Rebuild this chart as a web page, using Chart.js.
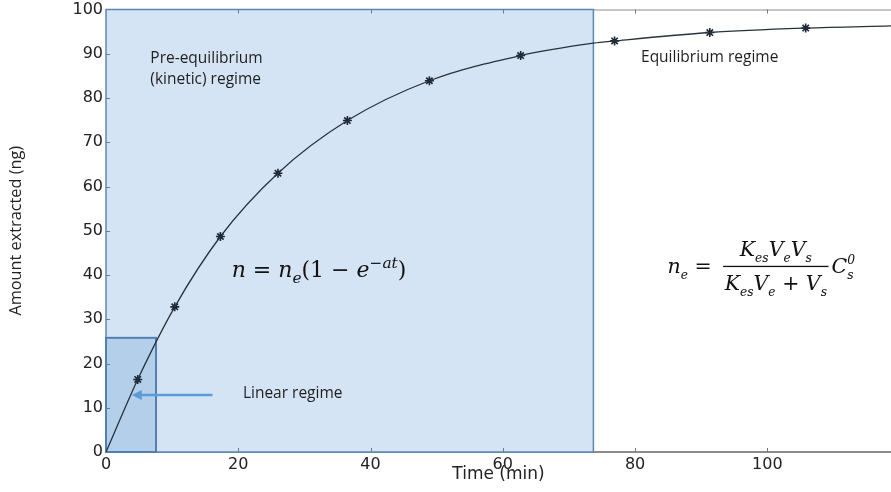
<!DOCTYPE html>
<html>
<head>
<meta charset="utf-8">
<script src="https://cdn.jsdelivr.net/npm/chart.js@4.4.0/dist/chart.umd.min.js"></script>
<style>
  html, body { margin: 0; padding: 0; background: #fff; }
  #wrap { width: 891px; height: 492px; }
</style>
</head>
<body>
<div id="wrap"><canvas id="extractionChart"></canvas></div>
<script>
// measured samples (asterisks)
var sampleTimes = [4.8, 10.4, 17.3, 26.0, 36.5, 48.9, 62.7, 76.9, 91.3, 105.8];
var sampleAmounts = [16.4, 32.8, 48.7, 63.0, 74.9, 83.9, 89.6, 92.9, 94.8, 95.8];

// fitted curve
var curveTimes = [0, 4.8, 10.4, 17.3, 26.0, 36.5, 48.9, 62.7, 73.7, 76.9, 91.3, 105.8, 118.7];
var curveAmounts = [0, 16.4, 32.8, 48.7, 63.0, 74.9, 83.9, 89.6, 92.4, 92.9, 94.8, 95.8, 96.3];

var xTicks = [0, 20, 40, 60, 80, 100];
var yTicks = [0, 10, 20, 30, 40, 50, 60, 70, 80, 90, 100];

// regime boundaries (time, amount)
var kineticEnd = 73.7;
var linearEnd = 7.56;
var linearTop = 25.8;

var ctx = document.getElementById("extractionChart").getContext("2d");

function toPoints(xs, ys) {
  return xs.map(function (v, i) { return { x: v, y: ys[i] }; });
}

// draws italic/roman pieces with sub/superscripts, returns end x
function drawMath(c, x, y, parts, size, measureOnly, subScale) {
  var sc = subScale || 0.7;
  var cx = x;
  parts.forEach(function (p) {
    var fs = size, dy = 0, style = "italic ";
    if (p[1] === "r") style = "";
    if (p[1] === "sub") { fs = size * sc; dy = size * 0.28; }
    if (p[1] === "sup") { fs = size * sc; dy = -size * 0.42; }
    c.font = style + fs + 'px "DejaVu Serif"';
    if (!measureOnly) c.fillText(p[0], cx, y + dy);
    cx += c.measureText(p[0]).width;
  });
  return cx;
}

var regimePlugin = {
  id: "regimes",
  beforeDatasetsDraw: function (chart) {
    var c = chart.ctx, x = chart.scales.x, y = chart.scales.y, a = chart.chartArea;
    var x0 = x.getPixelForValue(0), y0 = y.getPixelForValue(0), yTop = y.getPixelForValue(100);
    c.save();
    // frame
    c.strokeStyle = "#8c8c8c";
    c.lineWidth = 2;
    c.beginPath(); c.moveTo(a.left, y0); c.lineTo(a.right, y0); c.stroke();
    c.lineWidth = 1;
    c.beginPath(); c.moveTo(a.left, yTop + 0.5); c.lineTo(a.right, yTop + 0.5); c.stroke();
    // kinetic regime
    var xk = x.getPixelForValue(kineticEnd);
    c.fillStyle = "#d5e4f4";
    c.fillRect(x0, yTop, xk - x0, y0 - yTop);
    c.strokeStyle = "#5a88b4";
    c.lineWidth = 1.5;
    c.strokeRect(x0, yTop, xk - x0, y0 - yTop);
    // linear regime
    var xl = x.getPixelForValue(linearEnd), yl = y.getPixelForValue(linearTop);
    c.fillStyle = "#b3cfea";
    c.fillRect(x0, yl, xl - x0, y0 - yl);
    c.strokeStyle = "#4f80af";
    c.lineWidth = 2;
    c.strokeRect(x0, yl, xl - x0, y0 - yl);
    // inward tick marks
    c.strokeStyle = "#777";
    c.lineWidth = 1;
    xTicks.forEach(function (v) {
      if (v === 0) return;
      var px = Math.round(x.getPixelForValue(v)) + 0.5;
      c.beginPath(); c.moveTo(px, y0); c.lineTo(px, y0 - 4); c.stroke();
      c.beginPath(); c.moveTo(px, yTop); c.lineTo(px, yTop + 4); c.stroke();
    });
    yTicks.forEach(function (v) {
      if (v === 0 || v === 100) return;
      var py = Math.round(y.getPixelForValue(v)) + 0.5;
      c.beginPath(); c.moveTo(x0, py); c.lineTo(x0 + 4, py); c.stroke();
    });
    c.restore();
  },
  afterDatasetsDraw: function (chart) {
    var c = chart.ctx, x = chart.scales.x, y = chart.scales.y;
    c.save();
    c.fillStyle = "#1f1f1f";
    c.textBaseline = "middle";
    c.textAlign = "left";
    c.font = '15.5px "Open Sans"';
    c.fillText("Pre-equilibrium", x.getPixelForValue(6.7), y.getPixelForValue(89.0));
    c.fillText("(kinetic) regime", x.getPixelForValue(6.7), y.getPixelForValue(84.2));
    c.fillText("Equilibrium regime", x.getPixelForValue(80.9), y.getPixelForValue(89.1));
    c.fillText("Linear regime", x.getPixelForValue(20.7), y.getPixelForValue(13.1));

    // arrow
    var ax1 = x.getPixelForValue(16.1), ax2 = x.getPixelForValue(3.9), ay = y.getPixelForValue(12.9);
    c.strokeStyle = "#5b9bd5";
    c.fillStyle = "#5b9bd5";
    c.lineWidth = 2.5;
    c.beginPath(); c.moveTo(ax1, ay); c.lineTo(ax2 + 8, ay); c.stroke();
    c.beginPath(); c.moveTo(ax2, ay); c.lineTo(ax2 + 10, ay - 5); c.lineTo(ax2 + 10, ay + 5); c.closePath(); c.fill();

    // equations
    c.fillStyle = "#111";
    c.textBaseline = "alphabetic";
    drawMath(c, x.getPixelForValue(19.0), y.getPixelForValue(39.5), [
      ["n", "i"], [" = ", "r"], ["n", "i"], ["e", "sub"], ["(1 \u2212 ", "r"], ["e", "i"], ["\u2212at", "sup"], [")", "r"]
    ], 22);

    var size = 20.5, sc = 0.6;
    var bx = x.getPixelForValue(84.9), by = y.getPixelForValue(40.5);
    var ex = drawMath(c, bx, by, [["n", "i"], ["e", "sub"], [" = ", "r"]], size, false, sc) + 5;
    var num = [["K", "i"], ["es", "sub"], ["V", "i"], ["e", "sub"], ["V", "i"], ["s", "sub"]];
    var den = [["K", "i"], ["es", "sub"], ["V", "i"], ["e", "sub"], [" + ", "r"], ["V", "i"], ["s", "sub"]];
    var wn = drawMath(c, 0, 0, num, size, true, sc);
    var wd = drawMath(c, 0, 0, den, size, true, sc);
    var bw = Math.max(wn, wd) + 3;
    var barY = by - 7;
    drawMath(c, ex + (bw - wn) / 2, barY - 10, num, size, false, sc);
    drawMath(c, ex + (bw - wd) / 2, barY + 24, den, size, false, sc);
    c.fillRect(ex, barY, bw, 1.3);
    var cx = drawMath(c, ex + bw + 3, by, [["C", "i"]], size, false, sc);
    c.font = "italic " + (size * sc) + 'px "DejaVu Serif"';
    c.fillText("s", cx, by + size * 0.28);
    c.fillText("0", cx, by - size * 0.45);
    c.restore();
  }
};

var myChart = new Chart(ctx, {
  type: "scatter",
  data: {
    datasets: [
      {
        data: toPoints(curveTimes, curveAmounts),
        showLine: true,
        borderColor: "#28323d",
        borderWidth: 1.3,
        pointRadius: 0,
        cubicInterpolationMode: "monotone",
      },
      {
        data: toPoints(sampleTimes, sampleAmounts),
        pointStyle: "star",
        pointRadius: 4.5,
        borderColor: "#1b2632",
        borderWidth: 1.6,
        backgroundColor: "#1b2632",
      },
    ],
  },
  plugins: [regimePlugin],
  options: {
    responsive: true,
    maintainAspectRatio: false,
    animation: false,
    layout: { autoPadding: false, padding: { top: 9.5, right: 0, left: 0, bottom: 0 } },
    plugins: {
      legend: { display: false },
      tooltip: { enabled: false },
    },
    scales: {
      x: {
        type: "linear",
        min: 0,
        max: 118.7,
        afterBuildTicks: function (s) { s.ticks = xTicks.map(function (v) { return { value: v }; }); },
        afterFit: function (s) { s.height = 40; s.paddingLeft = 0; s.paddingRight = 0; },
        grid: { display: false, drawTicks: false },
        border: { display: false },
        ticks: {
          font: { family: "DejaVu Sans", size: 16 },
          color: "#222",
          padding: 3,
          maxRotation: 0,
          autoSkip: false,
        },
        title: {
          display: true,
          text: "Time (min)",
          font: { family: "DejaVu Sans", size: 17 },
          color: "#222",
          padding: { top: 0, bottom: 7 },
        },
      },
      y: {
        min: 0,
        max: 100,
        afterBuildTicks: function (s) { s.ticks = yTicks.map(function (v) { return { value: v }; }); },
        afterFit: function (s) { s.width = 106; s.paddingTop = 0; s.paddingBottom = 0; },
        grid: { display: false, drawTicks: false },
        border: { display: false },
        ticks: {
          font: { family: "DejaVu Sans", size: 16 },
          color: "#222",
          padding: 3,
          autoSkip: false,
        },
        title: {
          display: true,
          text: "Amount extracted (ng)",
          font: { family: "Open Sans", size: 16.3 },
          color: "#222",
          padding: { top: 7, bottom: 0 },
        },
      },
    },
  },
});
</script>
</body>
</html>
